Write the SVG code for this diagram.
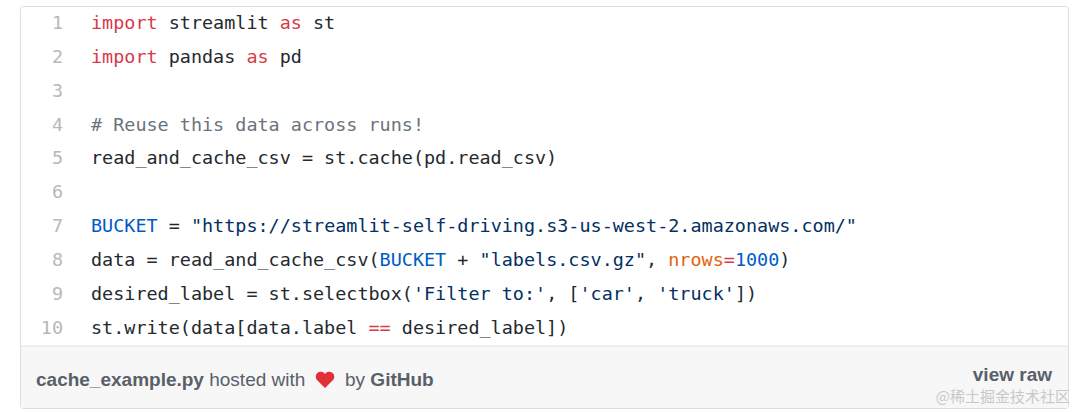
<svg xmlns="http://www.w3.org/2000/svg" width="1080" height="412" viewBox="0 0 1080 412">
<style>
.c{font-family:"DejaVu Sans Mono",monospace;font-size:18.45px;fill:#24292e;white-space:pre}
.n{font-family:"DejaVu Sans Mono",monospace;font-size:18.45px;fill:#b8b8b8;text-anchor:end}
.k{fill:#d73a49}.s{fill:#032f62}.b{fill:#005cc5}.o{fill:#e36209}.cm{fill:#6a737d}
.f{font-family:"Liberation Sans",Arial,sans-serif;font-size:19px;fill:#586069}
</style>
<rect width="1080" height="412" fill="#fff"/>
<rect x="20.5" y="6.5" width="1048" height="402" rx="3" fill="#fff" stroke="#ddd"/>
<rect x="21" y="346" width="1047" height="62" fill="#f7f7f7"/>
<line x1="21" y1="346" x2="1068" y2="346" stroke="#e1e1e1"/>
<g>
<text class="n" x="63" y="29">1</text>
<text class="n" x="63" y="63">2</text>
<text class="n" x="63" y="97">3</text>
<text class="n" x="63" y="131">4</text>
<text class="n" x="63" y="164">5</text>
<text class="n" x="63" y="198">6</text>
<text class="n" x="63" y="232">7</text>
<text class="n" x="63" y="266">8</text>
<text class="n" x="63" y="300">9</text>
<text class="n" x="63" y="334">10</text>
</g>
<g>
<text class="c" x="91" y="29"><tspan class="k">import</tspan> streamlit <tspan class="k">as</tspan> st</text>
<text class="c" x="91" y="63"><tspan class="k">import</tspan> pandas <tspan class="k">as</tspan> pd</text>
<text class="c cm" x="91" y="131"># Reuse this data across runs!</text>
<text class="c" x="91" y="164">read_and_cache_csv = st.cache(pd.read_csv)</text>
<text class="c" x="91" y="232"><tspan class="b">BUCKET</tspan> = <tspan class="s">"https://streamlit-self-driving.s3-us-west-2.amazonaws.com/"</tspan></text>
<text class="c" x="91" y="266">data = read_and_cache_csv(<tspan class="b">BUCKET</tspan> + <tspan class="s">"labels.csv.gz"</tspan>, <tspan class="o">nrows</tspan><tspan class="k">=</tspan><tspan class="b">1000</tspan>)</text>
<text class="c" x="91" y="300">desired_label = st.selectbox(<tspan class="s">'Filter to:'</tspan>, [<tspan class="s">'car'</tspan>, <tspan class="s">'truck'</tspan>])</text>
<text class="c" x="91" y="334">st.write(data[data.label <tspan class="k">==</tspan> desired_label])</text>
</g>
<text class="f" x="36" y="386"><tspan font-weight="bold">cache_example.py</tspan> hosted with</text>
<path d="M325 388 l-8.5 -8.5 a4.6 4.6 0 0 1 8.5 -5.5 a4.6 4.6 0 0 1 8.5 5.5 z" fill="#e0303a"/>
<text class="f" x="345" y="386">by <tspan font-weight="bold">GitHub</tspan></text>
<text class="f" x="1052" y="381" text-anchor="end" font-weight="bold">view raw</text>
<text x="1070" y="402" text-anchor="end" font-family="'Noto Sans CJK SC',sans-serif" font-size="15" fill="#c8c8c8">@稀土掘金技术社区</text>
</svg>
